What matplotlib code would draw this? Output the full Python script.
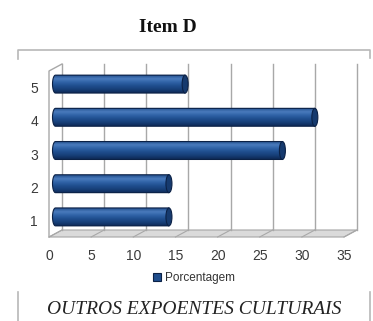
import numpy as np
import matplotlib
matplotlib.use("Agg")
import matplotlib.pyplot as plt
from matplotlib.colors import LinearSegmentedColormap
from matplotlib.patches import Polygon, Ellipse, Patch
from matplotlib.transforms import offset_copy

plt.rcParams["font.family"] = ["Liberation Sans", "DejaVu Sans"]

# dados do gráfico
categorias = [1, 2, 3, 4, 5]
porcentagem = [13.46, 13.46, 26.92, 30.77, 15.38]
ticks_x = [0, 5, 10, 15, 20, 25, 30, 35]
titulo = "Item D"
rodape = "OUTROS EXPOENTES CULTURAIS"
legenda = "Porcentagem"

W, H = 373, 321
fig = plt.figure(figsize=(W / 100, H / 100), dpi=100)

# camada de moldura, em pixels
moldura = fig.add_axes([0, 0, 1, 1])
moldura.set_xlim(0, W)
moldura.set_ylim(H, 0)
moldura.axis("off")
cinza = "#b8b8b8"
moldura.plot([18, 18, 370, 370], [59, 50, 50, 58], color=cinza, lw=1.2)
moldura.plot([18, 18], [292, H], color=cinza, lw=1.2)
moldura.plot([370, 370], [292, H], color=cinza, lw=1.2)
moldura.text(168, 28, titulo, ha="center", va="center", family="Liberation Serif",
             weight="bold", size=14, color="#111111")
moldura.text(194, 310, rodape, ha="center", va="center", family="Liberation Serif",
             style="italic", size=14, color="#222222")

# eixo principal (plano da frente)
ax = fig.add_axes([49 / W, 84 / H, 295 / W, 166 / H])
ax.set_xlim(0, 35)
ax.set_ylim(0.5, 5.5)
for s in ax.spines.values():
    s.set_visible(False)
ax.patch.set_visible(False)
ax.set_xticks(ticks_x)
ax.set_yticks(categorias)
ax.tick_params(length=0, labelsize=10, labelcolor="#3a3a3a")
ax.tick_params(axis="x", pad=9)
ax.tick_params(axis="y", pad=8)

# profundidade 3D: parede do fundo e plano das barras
fundo = offset_copy(ax.transData, fig=fig, x=13, y=7, units="dots")
meio = offset_copy(ax.transData, fig=fig, x=6.5, y=3.5, units="dots")
para_dados = fundo + ax.transData.inverted()

x0, x1 = ax.get_xlim()
y0, y1 = ax.get_ylim()
linha = "#a8a8a8"

# piso
tras = para_dados.transform([(x1, y0), (x0, y0)])
ax.add_patch(Polygon(np.vstack([[(x0, y0), (x1, y0)], tras]), closed=True,
                     fc="#dadada", ec="#a5a5a5", lw=0.8, clip_on=False, zorder=1))

# grade do fundo e do piso
for t in ticks_x:
    ax.plot([t, t], [y0, y1], transform=fundo, color=linha, lw=1,
            clip_on=False, zorder=1.2)
    bx, by = para_dados.transform((t, y0))
    ax.plot([t, bx], [y0, by], color=linha, lw=0.8, clip_on=False, zorder=1.5)

# parede esquerda
tx, ty = para_dados.transform((x0, y1))
ax.plot([x0, x0, tx], [y0, y1, ty], color=linha, lw=1, clip_on=False, zorder=1.2)

# barras cilíndricas
altura = 0.54
barras = ax.barh(categorias, porcentagem, height=altura, color="#1f4d8c", zorder=3)
cmap = LinearSegmentedColormap.from_list(
    "cilindro", ["#24508e", "#4a7bbd", "#2f62a6", "#1f4e8e", "#173f78", "#0e2a57"])
grad = np.linspace(0, 1, 64).reshape(-1, 1)
a = 3 / 8.43  # semi-eixo das tampas, em unidades de x
th = np.linspace(np.pi / 2, 3 * np.pi / 2, 30)
for b in barras:
    b.set_transform(meio)
    xa, yb, w, h = b.get_x(), b.get_y(), b.get_width(), b.get_height()
    xb, yc = xa + w, yb + h / 2
    contorno = np.column_stack([xa + a * np.cos(th), yc + h / 2 * np.sin(th)])
    contorno = np.vstack([contorno, [(xb, yb), (xb, yb + h)]])
    forma = Polygon(contorno, closed=True, transform=meio, fc="none",
                    ec="#0b2146", lw=0.8, zorder=3.2, clip_on=False)
    ax.add_patch(forma)
    im = ax.imshow(grad, cmap=cmap, aspect="auto", extent=[xa - a, xb, yb, yb + h],
                   origin="upper", transform=meio, zorder=3.1,
                   interpolation="bilinear")
    im.set_clip_path(forma)
    ax.add_patch(Ellipse((xb, yc), 2 * a, h, transform=meio, fc="#163a6e",
                         ec="#0b2146", lw=0.8, zorder=3.3, clip_on=False))

ax.set_xlim(0, 35)
ax.set_ylim(0.5, 5.5)

alca = Patch(facecolor="#1f4d8c", edgecolor="#0b2146", lw=0.8, label=legenda)
fig.legend(handles=[alca], loc="center", bbox_to_anchor=(194 / W, 1 - 278 / H),
           frameon=False, fontsize=8.5, handlelength=0.7, handleheight=0.7,
           handletextpad=0.3, borderpad=0, labelcolor="#333333")

fig.savefig("out.png", dpi=100)
